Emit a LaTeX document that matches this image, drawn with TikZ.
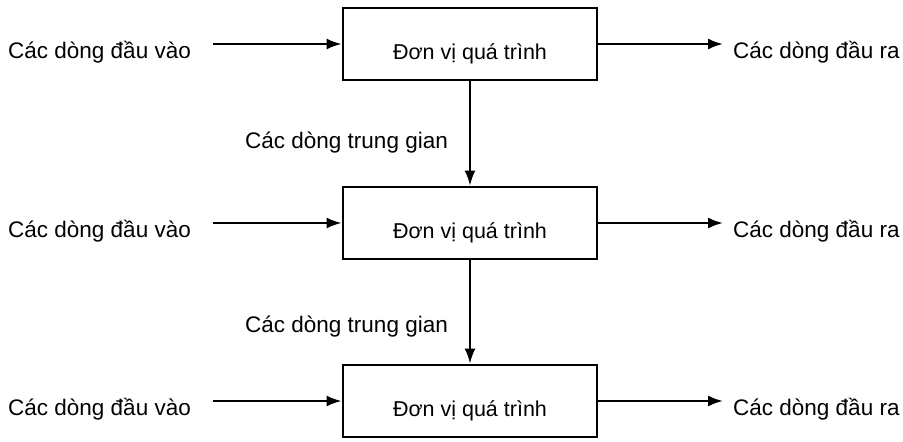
\documentclass[tikz,border=0pt]{standalone}
\usepackage{fontspec}
\setmainfont{Liberation Sans}
\usetikzlibrary{arrows.meta}
\begin{document}
\begin{tikzpicture}[x=1pt,y=-1pt,
  unitbox/.style={draw,line width=2.8pt,minimum width=254pt,minimum height=72pt,inner sep=0pt},
  unittext/.style={inner sep=0pt,anchor=base,font=\fontsize{21.5}{26}\selectfont},
  lbl/.style={inner sep=0pt,font=\fontsize{22.5}{26}\selectfont},
  flow/.style={line width=2.2pt,-{Latex[length=15pt,width=11pt]}}]
\useasboundingbox (0,0) rectangle (903,442);
\foreach \i/\y in {1/44,2/223,3/401}{
  \node[unitbox] (b\i) at (470,\y) {};
  \node[unittext] (t\i) at (470,\y+15) {Đơn vị quá trình};
  \node[lbl,anchor=base west] (in\i) at (8,\y+14) {Các dòng đầu vào};
  \node[lbl,anchor=base west] (out\i) at (733,\y+14) {Các dòng đầu ra};
  \coordinate (s\i) at (213,\y);
  \coordinate (e\i) at (723,\y);
  \draw[flow] (s\i) -- (b\i.west);
  \draw[flow] (b\i.east) -- (e\i);
}
\node[lbl,anchor=base west] (m1) at (245,148) {Các dòng trung gian};
\node[lbl,anchor=base west] (m2) at (245,332) {Các dòng trung gian};
\draw[flow] (b1.south) -- (b2.north);
\draw[flow] (b2.south) -- (b3.north);
\end{tikzpicture}
\end{document}
